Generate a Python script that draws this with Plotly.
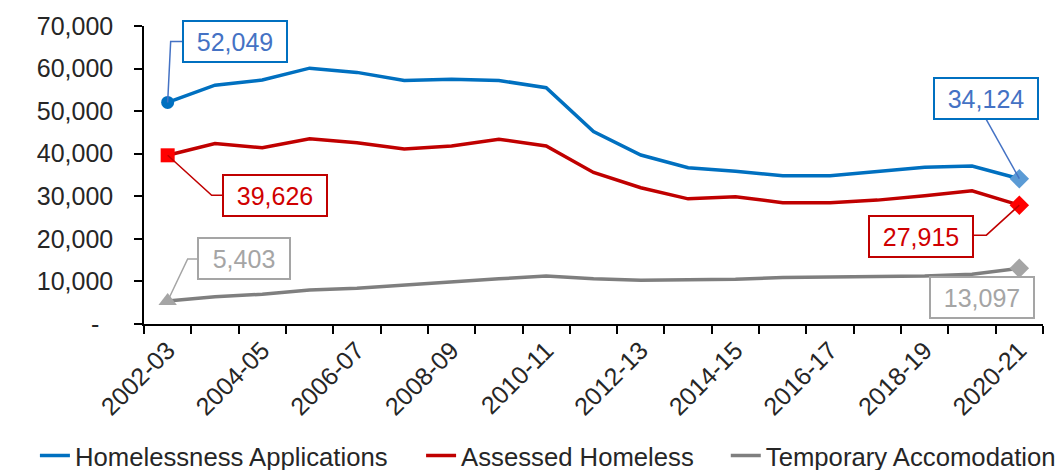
import plotly.graph_objects as go

categories = ["2002-03", "2003-04", "2004-05", "2005-06", "2006-07", "2007-08", "2008-09",
              "2009-10", "2010-11", "2011-12", "2012-13", "2013-14", "2014-15", "2015-16",
              "2016-17", "2017-18", "2018-19", "2019-20", "2020-21"]

applications = [52049, 56100, 57300, 60100, 59100, 57200, 57500, 57200, 55500, 45200,
                39700, 36700, 35900, 34800, 34800, 35800, 36800, 37100, 34124]
assessed = [39626, 42400, 41400, 43500, 42600, 41100, 41800, 43400, 41800, 35600,
            32000, 29400, 29900, 28500, 28500, 29100, 30100, 31300, 27915]
temporary = [5403, 6400, 7000, 8000, 8400, 9200, 9800, 10600, 11300, 10600,
             10300, 10300, 10500, 10900, 11000, 11100, 11300, 11700, 13097]

series_names = ["Homelessness Applications", "Assessed Homeless", "Temporary Accomodation"]
y_tickvals = [0, 10000, 20000, 30000, 40000, 50000, 60000, 70000]
y_ticktext = ["-\u00a0\u00a0", "10,000", "20,000", "30,000", "40,000", "50,000", "60,000", "70,000"]

FONT = "Liberation Sans, Arial, sans-serif"
line_colors = ["#0070C0", "#C00000", "#7F7F7F"]
start_marker = [("circle", "#0070C0", 13), ("square", "#FF0000", 14), ("triangle-up", "#A5A5A5", 16)]
end_marker = [("diamond", "#5B9BD5", 15), ("diamond", "#FF0000", 15), ("diamond", "#A5A5A5", 15)]
label_text_colors = ["#4472C4", "#D00000", "#A5A5A5"]
label_border_colors = ["#0070C0", "#C00000", "#A5A5A5"]
leader_colors = ["#4472C4", "#C00000", "#A5A5A5"]
legend_ids = ["legend", "legend2", "legend3"]
legend_x = [0.033, 0.398, 0.686]

xs = list(range(len(categories)))
all_series = [applications, assessed, temporary]

fig = go.Figure()
for name, vals, col, lid in zip(series_names, all_series, line_colors, legend_ids):
    fig.add_trace(go.Scatter(x=xs, y=vals, mode="lines", name=name, legend=lid,
                             line=dict(color=col, width=3.5)))

# label box offsets (pixels, x right / y up) from the labelled point, box widths, leader paths
start_labels = [
    dict(shift=(67, 61), width=96, leader="M0,0 L3,61 L16,61"),
    dict(shift=(107, -40), width=96, leader="M0,0 L44,-40 L56,-40"),
    dict(shift=(76, 43), width=84, leader="M0,0 L20,42 L31,42"),
]
end_labels = [
    dict(shift=(-33, 80), width=96, leader="M0,0 L-33,59"),
    dict(shift=(-98, -31), width=96, leader="M0,0 L-33,-30 L-46,-30"),
    dict(shift=(-37, -29), width=96, leader=None),
]

for i, vals in enumerate(all_series):
    for idx, spec in [(0, start_labels[i]), (len(vals) - 1, end_labels[i])]:
        if spec["leader"]:
            fig.add_shape(type="path", xref="x", yref="y", xsizemode="pixel", ysizemode="pixel",
                          xanchor=xs[idx], yanchor=vals[idx], path=spec["leader"],
                          line=dict(color=leader_colors[i], width=1.5), layer="above")
        fig.add_annotation(
            x=xs[idx], y=vals[idx], xref="x", yref="y",
            text=f"{vals[idx]:,}", showarrow=False,
            xshift=spec["shift"][0], yshift=spec["shift"][1],
            font=dict(family=FONT, size=25, color=label_text_colors[i]),
            bordercolor=label_border_colors[i], borderwidth=2, borderpad=3,
            bgcolor="white", width=spec["width"], height=33, align="center",
        )

for i, vals in enumerate(all_series):
    s, c, sz = start_marker[i]
    fig.add_trace(go.Scatter(x=[xs[0]], y=[vals[0]], mode="markers", showlegend=False,
                             marker=dict(symbol=s, color=c, size=sz)))
    s, c, sz = end_marker[i]
    fig.add_trace(go.Scatter(x=[xs[-1]], y=[vals[-1]], mode="markers", showlegend=False,
                             marker=dict(symbol=s, color=c, size=sz)))

legend_common = dict(orientation="h", xref="container", yref="container",
                     xanchor="left", y=0.03, yanchor="middle",
                     font=dict(family=FONT, size=25.7, color="#262626"),
                     bgcolor="rgba(0,0,0,0)")
fig.update_layout(
    width=1058, height=470,
    margin=dict(l=144, r=15, t=26, b=146, autoexpand=False),
    paper_bgcolor="white", plot_bgcolor="white",
    font=dict(family=FONT, size=25, color="#262626"),
    showlegend=True,
    legend=dict(x=legend_x[0], **legend_common),
    legend2=dict(x=legend_x[1], **legend_common),
    legend3=dict(x=legend_x[2], **legend_common),
)
fig.update_xaxes(
    range=[-0.5, len(categories) - 0.5], automargin=False,
    tickmode="array", tickvals=xs[::2], ticktext=categories[::2],
    tickangle=-45, ticks="", showgrid=False, zeroline=False,
    showline=True, linecolor="#000000", linewidth=1.5,
    tickfont=dict(family=FONT, size=25, color="#262626"),
    minor=dict(ticks="outside", tick0=-0.5, dtick=1, ticklen=8, tickcolor="#000000", tickwidth=1.5, showgrid=False),
)
fig.update_yaxes(
    range=[0, 70000], automargin=False, tickmode="array", tickvals=y_tickvals, ticktext=y_ticktext,
    ticks="outside", ticklen=8, tickcolor="#000000", tickwidth=1.5,
    showgrid=False, zeroline=False, showline=True, linecolor="#000000", linewidth=1.5,
    tickfont=dict(family=FONT, size=25, color="#262626"),
    ticklabelstandoff=16,
)

fig.write_html("out.html")
